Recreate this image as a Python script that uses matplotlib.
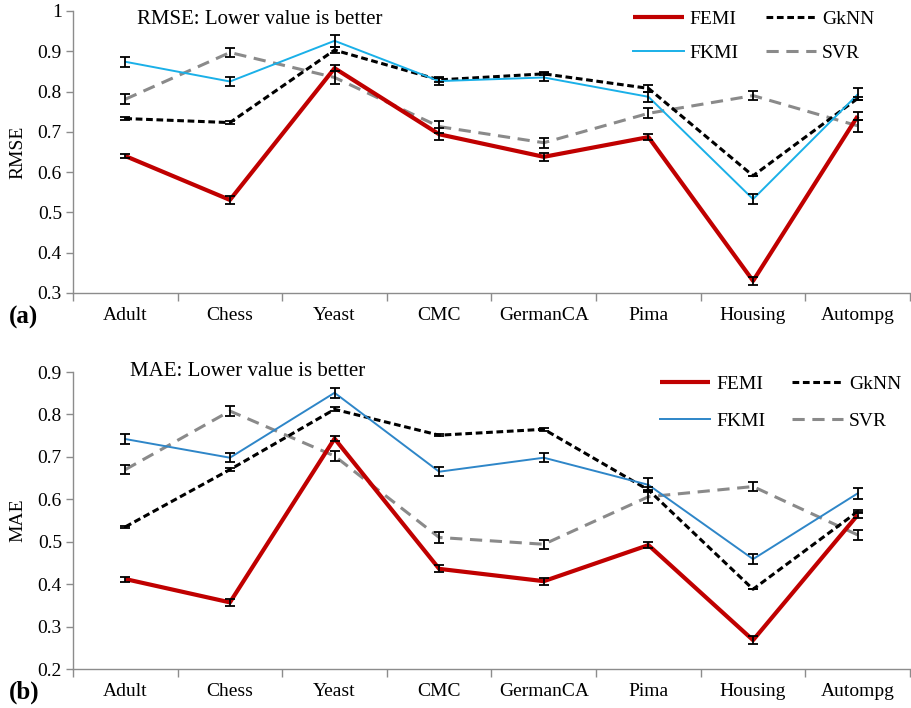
import matplotlib
matplotlib.use("Agg")
import matplotlib.pyplot as plt
import numpy as np

plt.rcParams['font.family'] = ['Liberation Serif', 'DejaVu Serif']

categories = ["Adult", "Chess", "Yeast", "CMC", "GermanCA", "Pima", "Housing", "Autompg"]

# RMSE panel (a)
rmse_femi = [0.640, 0.531, 0.858, 0.694, 0.638, 0.687, 0.330, 0.739]
rmse_femi_err = [0.006, 0.010, 0.008, 0.015, 0.010, 0.008, 0.010, 0.010]
rmse_gknn = [0.733, 0.723, 0.903, 0.829, 0.844, 0.808, 0.591, 0.783]
rmse_gknn_err = [0.003, 0.003, 0.008, 0.005, 0.004, 0.008, 0.0, 0.004]
rmse_fkmi = [0.874, 0.825, 0.926, 0.826, 0.835, 0.787, 0.533, 0.793]
rmse_fkmi_err = [0.012, 0.012, 0.015, 0.010, 0.010, 0.012, 0.012, 0.015]
rmse_svr = [0.781, 0.897, 0.835, 0.713, 0.673, 0.746, 0.790, 0.715]
rmse_svr_err = [0.012, 0.012, 0.015, 0.015, 0.012, 0.012, 0.012, 0.015]

# MAE panel (b)
mae_femi = [0.412, 0.357, 0.743, 0.436, 0.407, 0.492, 0.268, 0.563]
mae_femi_err = [0.006, 0.009, 0.006, 0.008, 0.008, 0.007, 0.009, 0.008]
mae_gknn = [0.535, 0.670, 0.812, 0.751, 0.765, 0.622, 0.388, 0.571]
mae_gknn_err = [0.003, 0.003, 0.005, 0.003, 0.003, 0.006, 0.0, 0.004]
mae_fkmi = [0.742, 0.698, 0.851, 0.665, 0.698, 0.634, 0.459, 0.614]
mae_fkmi_err = [0.011, 0.011, 0.012, 0.011, 0.011, 0.015, 0.011, 0.013]
mae_svr = [0.670, 0.808, 0.702, 0.510, 0.494, 0.606, 0.630, 0.516]
mae_svr_err = [0.011, 0.012, 0.012, 0.012, 0.011, 0.015, 0.011, 0.012]

W, H = 912, 708
fig = plt.figure(figsize=(W / 100, H / 100), dpi=100)

def px_axes(left, top, right, bottom):
    return fig.add_axes([left / W, 1 - bottom / H, (right - left) / W, (bottom - top) / H])

spine_col = "#8c8c8c"

def draw_panel(ax, femi, femi_e, gknn, gknn_e, fkmi, fkmi_e, svr, svr_e,
               ylim, yticks, ylabel, fkmi_color, leg_anchor, leg_spacing):
    x = np.arange(len(categories))
    l1, = ax.plot(x, femi, color="#C00000", lw=3.0, zorder=4, solid_capstyle='butt')
    l2, = ax.plot(x, gknn, color="black", lw=2.2, ls=(0, (2.2, 1.2)), zorder=3)
    l3, = ax.plot(x, fkmi, color=fkmi_color, lw=1.4, zorder=3)
    l4, = ax.plot(x, svr, color="#8a8a8a", lw=2.2, ls=(0, (4, 2.5)), zorder=2)
    for y, e in [(femi, femi_e), (gknn, gknn_e), (fkmi, fkmi_e), (svr, svr_e)]:
        ax.errorbar(x, y, yerr=e, fmt='none', ecolor='black', elinewidth=1.3,
                    capsize=3.8, capthick=1.3, zorder=5)
    ax.set_xlim(-0.5, len(categories) - 0.5)
    ax.set_ylim(*ylim)
    ax.set_yticks(yticks)
    ax.set_yticklabels([("%g" % t) for t in yticks])
    ax.set_xticks(np.arange(-0.5, len(categories)), minor=False)
    ax.set_xticklabels([])
    ax.set_xticks(x, minor=True)
    ax.set_xticklabels(categories, minor=True)
    ax.tick_params(axis='x', which='minor', length=0, pad=10, labelsize=14)
    ax.tick_params(axis='x', which='major', length=6, width=1.0, color=spine_col, direction='out')
    ax.tick_params(axis='y', length=5, width=1.0, color=spine_col, direction='out', labelsize=14, pad=3)
    for s in ['top', 'right']:
        ax.spines[s].set_visible(False)
    for s in ['left', 'bottom']:
        ax.spines[s].set_color(spine_col)
        ax.spines[s].set_linewidth(1.0)
    ax.set_ylabel(ylabel, fontsize=14, labelpad=8)
    ax.legend([l1, l3, l2, l4], ["FEMI", "FKMI", "GkNN", "SVR"], ncol=2, frameon=False,
              loc='upper left', bbox_to_anchor=leg_anchor, fontsize=14,
              handlelength=2.6, handletextpad=0.3, columnspacing=1.4,
              labelspacing=leg_spacing, borderpad=0, borderaxespad=0)

ax1 = px_axes(73, 11, 910, 293)
draw_panel(ax1, rmse_femi, rmse_femi_err, rmse_gknn, rmse_gknn_err,
           rmse_fkmi, rmse_fkmi_err, rmse_svr, rmse_svr_err,
           (0.3, 1.0), [0.3, 0.4, 0.5, 0.6, 0.7, 0.8, 0.9, 1.0], "RMSE", "#1AB0E8",
           (0.669, 1.002), 0.85)
ax1.set_yticklabels(["0.3", "0.4", "0.5", "0.6", "0.7", "0.8", "0.9", "1"])

ax2 = px_axes(73, 372, 910, 669)
draw_panel(ax2, mae_femi, mae_femi_err, mae_gknn, mae_gknn_err,
           mae_fkmi, mae_fkmi_err, mae_svr, mae_svr_err,
           (0.2, 0.9), [0.2, 0.3, 0.4, 0.5, 0.6, 0.7, 0.8, 0.9], "MAE", "#2E86C8",
           (0.701, 0.988), 1.0)

fig.text(137 / W, 1 - 20 / H, "RMSE: Lower value is better", fontsize=15, va='center', ha='left')
fig.text(130 / W, 1 - 371 / H, "MAE: Lower value is better", fontsize=15, va='center', ha='left')
fig.text(9 / W, 1 - 317 / H, "(a)", fontsize=18, fontweight='bold', va='center', ha='left')
fig.text(9 / W, 1 - 692 / H, "(b)", fontsize=18, fontweight='bold', va='center', ha='left')

fig.savefig("out.png", dpi=100)
